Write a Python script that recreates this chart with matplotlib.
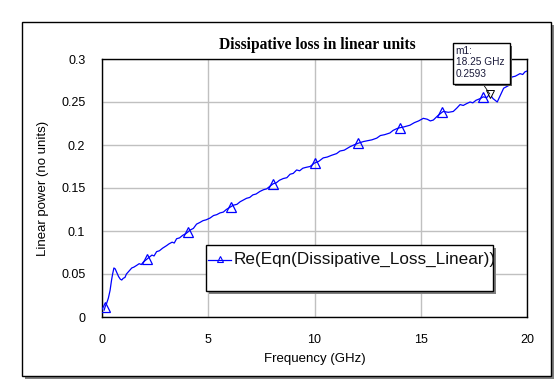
import numpy as np
import matplotlib
matplotlib.use("Agg")
import matplotlib.pyplot as plt
from matplotlib.patches import Rectangle
from matplotlib.lines import Line2D

# ---- data ----
freq_ghz = [0.10, 0.15, 0.22, 0.30, 0.38, 0.45, 0.50, 0.56, 0.62, 0.69, 0.78, 0.86, 0.93,
            1.00, 1.08, 1.15, 1.22, 1.32, 1.40, 1.50, 1.63, 1.75, 1.85, 1.95, 2.10, 2.20,
            2.35, 2.45, 2.57, 2.70, 2.85, 3.04, 3.15, 3.30, 3.40, 3.51, 3.65, 3.80, 3.95,
            4.05, 4.14, 4.30, 4.45, 4.61, 4.75, 4.90, 5.08, 5.25, 5.40, 5.55, 5.71, 5.85,
            6.05, 6.18, 6.35, 6.50, 6.65, 6.80, 6.95, 7.10, 7.25, 7.43, 7.60, 7.75, 7.90,
            8.06, 8.20, 8.35, 8.53, 8.70, 8.85, 9.00, 9.16, 9.30, 9.45, 9.60, 9.79, 10.00,
            10.20, 10.41, 10.60, 10.80, 11.04, 11.20, 11.40, 11.67, 11.85, 12.05, 12.30,
            12.50, 12.70, 12.93, 13.10, 13.30, 13.55, 13.70, 13.87, 14.00, 14.20, 14.49,
            14.70, 14.90, 15.12, 15.30, 15.45, 15.59, 15.80, 16.00, 16.06, 16.30, 16.53,
            16.70, 16.85, 17.00, 17.15, 17.32, 17.45, 17.60, 17.80, 17.94, 18.10, 18.25,
            18.40, 18.60, 18.75, 18.90, 19.05, 19.20, 19.28, 19.45, 19.67, 19.80, 19.90, 20.00]
loss_linear = [0.008, 0.012, 0.016, 0.022, 0.031, 0.043, 0.050, 0.057, 0.056, 0.052, 0.047, 0.044, 0.043,
               0.045, 0.046, 0.050, 0.052, 0.055, 0.057, 0.058, 0.060, 0.062, 0.061, 0.064, 0.067, 0.069,
               0.072, 0.071, 0.076, 0.077, 0.080, 0.083, 0.085, 0.087, 0.086, 0.091, 0.092, 0.095, 0.097,
               0.099, 0.101, 0.103, 0.108, 0.110, 0.112, 0.113, 0.115, 0.118, 0.119, 0.121, 0.122, 0.125,
               0.128, 0.130, 0.131, 0.134, 0.136, 0.138, 0.139, 0.142, 0.143, 0.146, 0.148, 0.149, 0.152,
               0.155, 0.156, 0.159, 0.161, 0.162, 0.166, 0.167, 0.171, 0.170, 0.173, 0.174, 0.175, 0.179,
               0.181, 0.185, 0.186, 0.188, 0.190, 0.193, 0.194, 0.198, 0.200, 0.202, 0.204,
               0.205, 0.206, 0.208, 0.211, 0.212, 0.214, 0.217, 0.219, 0.220, 0.221, 0.223,
               0.226, 0.228, 0.231, 0.230, 0.228, 0.229, 0.234, 0.238, 0.239, 0.238, 0.239,
               0.243, 0.247, 0.246, 0.248, 0.250, 0.249, 0.252, 0.254, 0.256, 0.255, 0.2593,
               0.254, 0.250, 0.258, 0.266, 0.268, 0.270, 0.279, 0.280, 0.283, 0.282, 0.285, 0.286]
marker_freqs = [0.15, 2.10, 4.05, 6.05, 8.06, 10.00, 12.05, 14.00, 16.00, 18.00]
m1_freq = 18.25
m1_value = 0.2593
x_ticks = [0, 5, 10, 15, 20]
y_ticks = [0, 0.05, 0.1, 0.15, 0.2, 0.25, 0.3]
y_tick_labels = ["0", "0.05", "0.1", "0.15", "0.2", "0.25", "0.3"]
title = "Dissipative loss in linear units"
x_label = "Frequency (GHz)"
y_label = "Linear power (no units)"
legend_label = "Re(Eqn(Dissipative_Loss_Linear))"

# ---- figure ----
W, H = 556, 380
fig = plt.figure(figsize=(W / 100, H / 100), dpi=100)
fig.patch.set_facecolor("white")

def fx(px):
    return px / W

def fy(py):
    return 1 - py / H

sans = ["Liberation Sans", "DejaVu Sans"]

# outer frame with shadow
fig.add_artist(Rectangle((fx(25), fy(379)), fx(554) - fx(25), fy(25) - fy(379),
                         transform=fig.transFigure, facecolor="#808080", edgecolor="none", zorder=0))
fig.add_artist(Rectangle((fx(22), fy(376)), fx(551) - fx(22), fy(22) - fy(376),
                         transform=fig.transFigure, facecolor="white", edgecolor="black",
                         linewidth=1.0, zorder=0.5))

ax = fig.add_axes([fx(102), fy(317), fx(527) - fx(102), fy(59) - fy(317)])
ax.set_zorder(2)
ax.set_xlim(0, 20)
ax.set_ylim(0, 0.3)
ax.set_xticks(x_ticks)
ax.set_yticks(y_ticks)
ax.set_yticklabels(y_tick_labels)
ax.grid(True, color="#c0c0c0", linewidth=1.0)
ax.set_axisbelow(True)
ax.tick_params(length=0, labelsize=9, pad=12)
for lab in ax.get_xticklabels() + ax.get_yticklabels():
    lab.set_family(sans)
for s in ax.spines.values():
    s.set_linewidth(1.0)
    s.set_color("black")

x = np.array(freq_ghz)
y = np.array(loss_linear)
mark_idx = [int(np.argmin(np.abs(x - f))) for f in marker_freqs]
ax.plot(x, y, color="#0000ff", linewidth=0.9, marker="^", markersize=7,
        markerfacecolor="none", markeredgecolor="#0000ff", markeredgewidth=0.9,
        markevery=mark_idx, zorder=3)

# m1 marker
ax.plot([m1_freq], [m1_value], marker="v", markersize=6, markerfacecolor="white",
        markeredgecolor="black", markeredgewidth=0.7, zorder=4, linestyle="none")

ax.set_xlabel(x_label, family=sans, fontsize=9.5, labelpad=5)
ax.set_ylabel(y_label, family=sans, fontsize=9.5, labelpad=9)

fig.text(fx(317), fy(45), title, ha="center", va="center",
         family=["Liberation Serif", "DejaVu Serif"], fontweight="bold", fontsize=11.2)

# legend box with shadow
fig.add_artist(Rectangle((fx(209), fy(294)), fx(496) - fx(209), fy(248) - fy(294),
                         transform=fig.transFigure, facecolor="#808080", edgecolor="none", zorder=5))
fig.add_artist(Rectangle((fx(206), fy(291)), fx(493) - fx(206), fy(245) - fy(291),
                         transform=fig.transFigure, facecolor="white", edgecolor="black",
                         linewidth=1.0, zorder=6))
fig.add_artist(Line2D([fx(208), fx(231)], [fy(260), fy(260)], transform=fig.transFigure,
                      color="#0000ff", linewidth=0.9, zorder=7))
fig.add_artist(Line2D([fx(219.5)], [fy(259)], transform=fig.transFigure, marker="^",
                      markersize=4, markerfacecolor="none", markeredgecolor="#0000ff",
                      markeredgewidth=0.8, zorder=7))
fig.text(fx(234), fy(259), legend_label, ha="left", va="center", family=sans,
         fontsize=12.3, zorder=8, color="#101010")

# m1 annotation box
m1_disp = ax.transData.transform((m1_freq, m1_value))
m1_fig = fig.transFigure.inverted().transform(m1_disp)
fig.add_artist(Line2D([fx(483), m1_fig[0]], [fy(84), m1_fig[1]],
                      transform=fig.transFigure, color="black", linewidth=0.6, zorder=8))
fig.add_artist(Rectangle((fx(455), fy(86)), fx(512) - fx(455), fy(46) - fy(86),
                         transform=fig.transFigure, facecolor="#606060", edgecolor="none", zorder=8))
fig.add_artist(Rectangle((fx(453), fy(84)), fx(510) - fx(453), fy(43) - fy(84),
                         transform=fig.transFigure, facecolor="white", edgecolor="black",
                         linewidth=1.0, zorder=9))
for i, t in enumerate(["m1:", f"{m1_freq:.2f} GHz", f"{m1_value:.4f}"]):
    fig.text(fx(455.5), fy(51 + 11.3 * i), t, ha="left", va="center", family=sans,
             fontsize=7.3, color="#1a1a3a", zorder=10)

fig.savefig("out.png", dpi=100)
